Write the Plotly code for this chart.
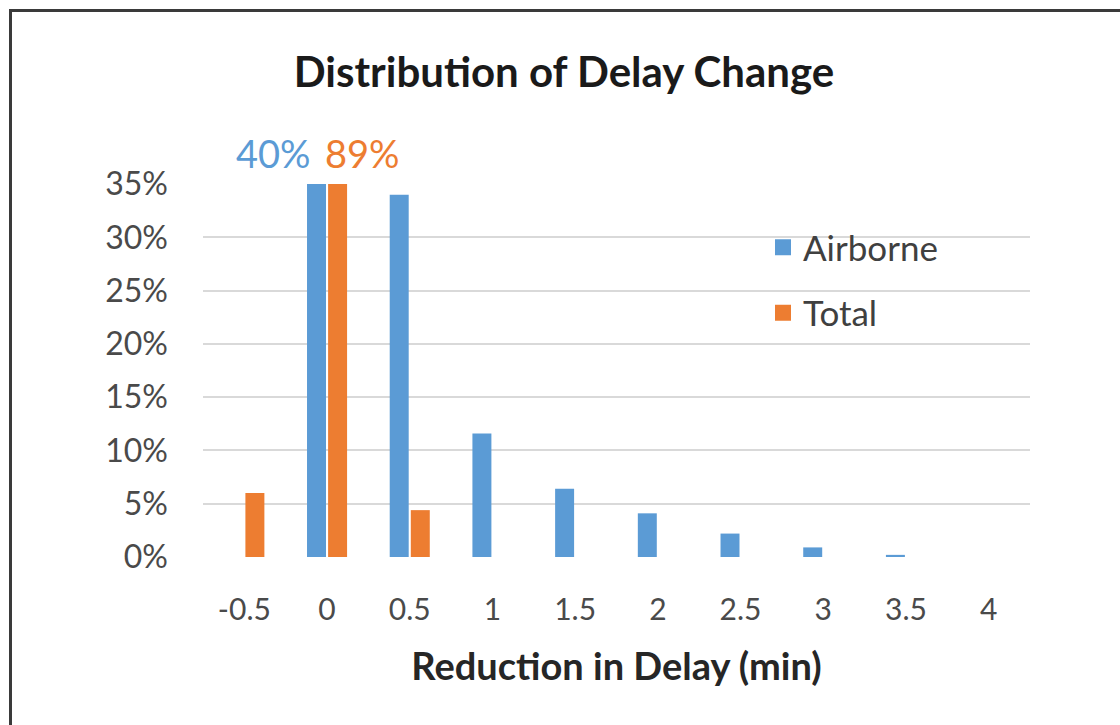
import plotly.graph_objects as go

# ---- data ----
categories = ["-0.5", "0", "0.5", "1", "1.5", "2", "2.5", "3", "3.5", "4"]
airborne = [0.0, 0.40, 0.34, 0.116, 0.064, 0.041, 0.022, 0.009, 0.002, 0.0]
total = [0.06, 0.89, 0.044, 0.0, 0.0, 0.0, 0.0, 0.0, 0.0, 0.0]
y_ticks = [0, 0.05, 0.10, 0.15, 0.20, 0.25, 0.30, 0.35]
series_names = ["Airborne", "Total"]

BLUE = "#5B9BD5"
ORANGE = "#ED7D31"
FONT = "Lato"

W, H = 1120, 725
L, R, T, B = 203, 90, 184, 168
PW, PH = W - L - R, H - T - B


def px_x(x):
    return (x - L) / PW


def px_y(y):
    return (H - B - y) / PH


fig = go.Figure()
fig.add_trace(go.Bar(x=categories, y=airborne, name=series_names[0],
                     marker=dict(color=BLUE, line=dict(width=0)),
                     showlegend=False))
fig.add_trace(go.Bar(x=categories, y=total, name=series_names[1],
                     marker=dict(color=ORANGE, line=dict(width=0)),
                     showlegend=False))
# legend entries (bigger square swatches, as in the reference)
for name, col, grp in [(series_names[0], BLUE, "a"), (series_names[1], ORANGE, "b")]:
    fig.add_trace(go.Scatter(x=[None], y=[None], mode="markers", name=name,
                             marker=dict(symbol="square", size=18, color=col),
                             legendgroup=grp, showlegend=True))

# labels for the clipped bars at category "0" (index-based position)
idx0 = categories.index("0")
fig.add_annotation(x=idx0, y=px_y(153), xref="x", yref="paper",
                   text=f"{airborne[idx0]*100:.0f}%", showarrow=False,
                   xanchor="right", yanchor="middle", xshift=-14,
                   font=dict(family=FONT, size=38, color=BLUE))
fig.add_annotation(x=idx0, y=px_y(153), xref="x", yref="paper",
                   text=f"{total[idx0]*100:.0f}%", showarrow=False,
                   xanchor="left", yanchor="middle", xshift=-4,
                   font=dict(family=FONT, size=38, color=ORANGE))

# cropped heading glyph at very top
fig.add_annotation(x=px_x(150), y=px_y(3), xref="paper", yref="paper",
                   text="<b>g</b>", showarrow=False, xanchor="center",
                   yanchor="bottom", font=dict(family=FONT, size=40, color="#000"))

# outer frame (cropped at right and bottom)
bx = px_x(10.5)
by = px_y(10.5)
fig.add_shape(type="path", xref="paper", yref="paper",
              path=f"M {bx},-2 L {bx},{by} L 2,{by}",
              line=dict(color="#3a3a3a", width=3))

fig.update_layout(
    width=W, height=H,
    margin=dict(l=L, r=R, t=T, b=B, autoexpand=False),
    paper_bgcolor="white", plot_bgcolor="white",
    barmode="group", bargap=0.49, bargroupgap=0.1,
    title=dict(text="<b>Distribution of Delay Change</b>",
               x=564 / W, xanchor="center", y=1 - 72 / H, yanchor="middle",
               font=dict(family=FONT, size=42, color="#1a1a1a")),
    legend=dict(x=px_x(763), y=px_y(218), xanchor="left", yanchor="top",
                font=dict(family=FONT, size=35, color="#404040"),
                traceorder="grouped", tracegroupgap=17,
                bgcolor="rgba(0,0,0,0)", borderwidth=0),
    font=dict(family=FONT),
)

fig.update_xaxes(type="category", range=[-0.5, len(categories) - 0.5],
                 showgrid=False, showline=False, zeroline=False,
                 ticks="", ticklabelstandoff=32,
                 tickfont=dict(family=FONT, size=30, color="#4a4a4a"),
                 title=dict(text="<b>Reduction in Delay (min)</b>", standoff=28,
                            font=dict(family=FONT, size=38, color="#262626")))
fig.update_yaxes(range=[0, 0.3502], tickvals=y_ticks, tickformat=".0%",
                 showgrid=True, gridcolor="#d9d9d9", gridwidth=2,
                 zeroline=False, showline=False, ticks="",
                 ticklabelstandoff=34,
                 tickfont=dict(family=FONT, size=32, color="#4a4a4a"))

fig.write_html("out.html", config={"displayModeBar": False},
               post_script="document.body.style.margin='0';"
                           "document.body.style.overflow='hidden';")
